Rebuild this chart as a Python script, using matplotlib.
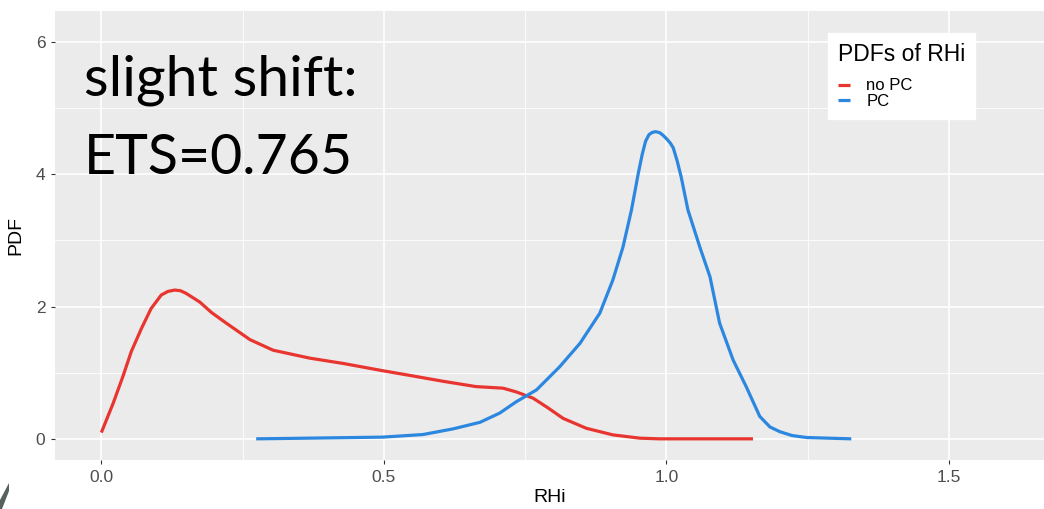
import matplotlib
matplotlib.use("Agg")
import matplotlib.pyplot as plt
from matplotlib.patches import Polygon
from matplotlib.ticker import MultipleLocator

plt.rcParams["font.family"] = ["Liberation Sans", "DejaVu Sans"]

# ---- data ----
nopc_x = [0.000, 0.021, 0.038, 0.053, 0.071, 0.088, 0.106, 0.118, 0.130, 0.140,
          0.150, 0.174, 0.195, 0.221, 0.263, 0.304, 0.369, 0.428, 0.498, 0.552,
          0.605, 0.663, 0.711, 0.734, 0.764, 0.790, 0.817, 0.858, 0.905, 0.953,
          0.988, 1.153]
nopc_y = [0.095, 0.54, 0.94, 1.32, 1.67, 1.97, 2.175, 2.23, 2.25, 2.24,
          2.20, 2.07, 1.91, 1.75, 1.50, 1.34, 1.22, 1.14, 1.03, 0.95,
          0.87, 0.79, 0.766, 0.71, 0.615, 0.47, 0.31, 0.16, 0.06, 0.01,
          0.0, 0.0]

pc_x = [0.274, 0.363, 0.498, 0.569, 0.622, 0.670, 0.705, 0.734, 0.770, 0.811,
        0.847, 0.882, 0.905, 0.923, 0.938, 0.950, 0.957, 0.963, 0.969, 0.975,
        0.981, 0.988, 0.994, 1.001, 1.007, 1.012, 1.019, 1.026, 1.038, 1.059,
        1.077, 1.094, 1.118, 1.141, 1.165, 1.183, 1.200, 1.222, 1.248, 1.327]
pc_y = [0.0, 0.01, 0.026, 0.065, 0.15, 0.25, 0.39, 0.56, 0.74, 1.09,
        1.445, 1.90, 2.40, 2.90, 3.46, 4.01, 4.30, 4.50, 4.60, 4.635,
        4.645, 4.63, 4.59, 4.53, 4.47, 4.40, 4.20, 3.96, 3.46, 2.90,
        2.45, 1.75, 1.19, 0.79, 0.34, 0.18, 0.11, 0.05, 0.02, 0.0]

series_labels = ["no PC", "PC"]
series_colors = ["#E8352F", "#2C87E0"]
x_ticks = [0.0, 0.5, 1.0, 1.5]
x_ticklabels = ["0.0", "0.5", "1.0", "1.5"]
y_ticks = [0, 2, 4, 6]
y_ticklabels = ["0", "2", "4", "6"]

# ---- figure ----
W, H = 1044, 509
fig = plt.figure(figsize=(W / 100, H / 100), dpi=100)
ax = fig.add_axes([55 / W, (H - 460) / H, (W - 55) / W, (460 - 11) / H])
ax.set_facecolor("#EBEBEB")
for s in ax.spines.values():
    s.set_visible(False)

ax.plot(nopc_x, nopc_y, color=series_colors[0], lw=2.3, label=series_labels[0],
        solid_capstyle="butt", solid_joinstyle="round", zorder=3)
ax.plot(pc_x, pc_y, color=series_colors[1], lw=2.3, label=series_labels[1],
        solid_capstyle="butt", solid_joinstyle="round", zorder=3)

ax.set_xlim(-0.082, 1.668)
ax.set_ylim(-0.32, 6.47)
ax.set_xticks(x_ticks)
ax.set_xticklabels(x_ticklabels)
ax.set_yticks(y_ticks)
ax.set_yticklabels(y_ticklabels)
ax.xaxis.set_minor_locator(MultipleLocator(0.25))
ax.yaxis.set_minor_locator(MultipleLocator(1))
ax.grid(which="major", color="white", lw=1.2, zorder=0)
ax.grid(which="minor", color="white", lw=0.6, zorder=0)
ax.set_axisbelow(True)
ax.tick_params(which="major", length=3, color="#333333", labelcolor="#4D4D4D",
               labelsize=12.5, pad=4)
ax.tick_params(which="minor", length=0)

ax.set_xlabel("RHi", fontsize=14, color="black", labelpad=3)
ax.set_ylabel("PDF", fontsize=14, color="black", labelpad=8)

# annotation text
ax.text(84 / W, 1 - 96 / H, "slight shift:", transform=fig.transFigure,
        fontsize=41, family="Lato", color="black", va="baseline", ha="left")
ax.text(84 / W, 1 - 174 / H, "ETS=0.765", transform=fig.transFigure,
        fontsize=40, family="Lato", color="black", va="baseline", ha="left")

leg = ax.legend(title="PDFs of RHi", loc="upper left",
                bbox_to_anchor=((828 - 55) / (W - 55), (460 - 33) / (460 - 11)),
                fontsize=12, title_fontsize=16.5, frameon=True, fancybox=False,
                handlelength=0.7, handletextpad=1.0, labelspacing=0.05,
                borderpad=0.6, borderaxespad=0)
leg.get_frame().set_facecolor("white")
leg.get_frame().set_edgecolor("white")
leg.get_frame().set_alpha(1)
leg._legend_box.align = "left"
leg._legend_box.sep = 9

# small slide decoration at bottom-left
fig.patches.append(Polygon([(0 / W, 1 - 500 / H), (9 / W, 1 - 483 / H),
                            (9 / W, 1 - 491 / H), (2 / W, 1 - 509 / H),
                            (0 / W, 1 - 509 / H)],
                           closed=True, transform=fig.transFigure,
                           facecolor="#56605F", edgecolor="none"))

fig.savefig("out.png", dpi=100)
